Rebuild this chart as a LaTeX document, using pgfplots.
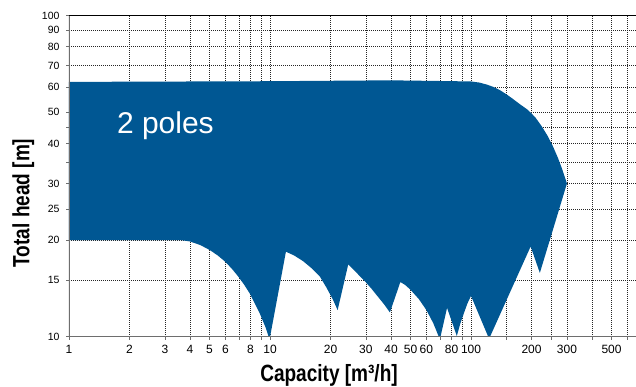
\documentclass[border=0pt]{standalone}
\usepackage{pgfplots}
\pgfplotsset{compat=1.18}
\usepackage{fontspec}
\setmainfont{Liberation Sans}
\definecolor{pumpblue}{RGB}{0,87,147}
\definecolor{axgray}{RGB}{110,110,110}
\begin{document}
\begin{tikzpicture}
\begin{axis}[
  at={(0,0)}, anchor=south west,
  scale only axis, width=567pt, height=321pt,
  xmode=log, ymode=log,
  xmin=1, xmax=662, ymin=10, ymax=100,
  axis line style={draw=none},
  xtick={1,2,3,4,5,6,7,8,9,10,20,30,40,50,60,70,80,90,100,150,200,250,300,400,500,600},
  xticklabels={1,2,3,4,5,6,,8,,10,20,30,40,50,60,,80,,100,,200,,300,,500,},
  ytick={10,15,20,25,30,35,40,45,50,60,70,80,90,100},
  yticklabels={10,15,20,25,30,,40,,50,60,70,80,90,100},
  minor tick num=0,
  xtick pos=bottom, ytick pos=left,
  tick align=outside, major tick length=3pt,
  tick style={axgray, line width=0.6pt},
  grid=major,
  major grid style={black!85, dash pattern=on 1pt off 1pt, line width=0.6pt},
  xticklabel style={font=\fontsize{12}{12}\selectfont, yshift=-2pt},
  yticklabel style={font=\fontsize{10.5}{12}\selectfont, xshift=-3pt},
  xlabel={\scalebox{0.81}[1]{\bfseries Capacity [m³/h]}},
  ylabel={\scalebox{0.81}[1]{\bfseries Total head [m]}},
  xlabel style={font=\fontsize{23.5}{26}\selectfont, at={([yshift=-44.5pt]rel axis cs:0.4586,0)}, anchor=base},
  ylabel style={font=\fontsize{23.5}{26}\selectfont, at={([xshift=-39.7pt]rel axis cs:0,0.4165)}, anchor=base, rotate=0},
]
\addplot[fill=pumpblue, draw=none] coordinates {
(1,62.2) (10,62.5) (40,62.9) (100,62.4) (110,61.9) (120,61.0) (130,59.9) (140,58.5) (150,56.9)
(160,55.3) (175,53.0) (190,51.1) (200,49.6) (210,48.0) (225,45.2) (240,42.3) (255,39.3)
(270,36.2) (285,33.1) (300,30)
(220,15.8) (198,19.1) (123,9.85) (100,13.4) (96,12.7) (92,11.8) (88.5,11.0) (85,10.05) (76,12.3) (70,9.8)
(65,11.0) (60,12.1) (55,13.1) (50,14.0) (47,14.5) (44.5,14.8)
(39.5,11.9) (37,12.6) (34.5,13.3) (32,14.1) (29.9,14.8) (27,15.8) (24.5,16.8)
(21.7,12.1) (20.5,13.1) (19,14.3) (17.7,15.4) (16,16.4) (14.6,17.2) (13.2,17.9) (12.0,18.4)
(9.95,9.8) (9.5,10.7) (8.9,11.8) (8.4,12.7) (7.95,13.6) (7.45,14.5) (6.95,15.4) (6.45,16.3)
(5.97,17.15) (5.5,17.9) (5.03,18.6) (4.5,19.3) (4.0,19.8) (3.6,20) (1,20)
} -- cycle;
\node[anchor=base west, text=white, inner sep=0pt, font=\fontsize{30}{34}\selectfont] at (axis cs:1.73,43.1) {2 poles};
\draw[black, line width=1pt] (rel axis cs:0,1) -- (rel axis cs:1,1);
\draw[axgray, line width=1.5pt] (rel axis cs:0,0) -- (rel axis cs:0,1);
\draw[axgray, line width=2pt] (rel axis cs:0,0) -- (rel axis cs:1,0);
\end{axis}
\pgfresetboundingbox
\path[use as bounding box] (-69pt,-50.3pt) rectangle (567pt,336.7pt);
\end{tikzpicture}
\end{document}
